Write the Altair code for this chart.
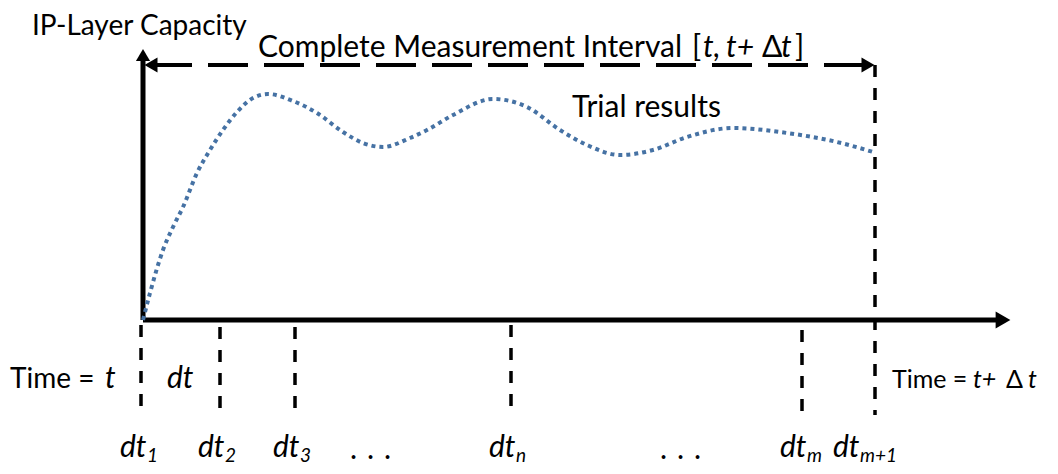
import altair as alt
import pandas as pd

FONT = "Lato"

# ---- data (diagram units: x = time position, y = capacity position, y grows downward)
curve_t = [143, 150, 163, 173, 183, 197, 210, 223, 237, 253, 268, 293, 317, 343, 363, 383,
           410, 427, 453, 493, 527, 560, 587, 620, 653, 687, 733, 787, 837, 873]
curve_c = [320, 293, 250, 227, 207, 173, 150, 130, 112, 98, 94, 101, 113, 132, 143, 147,
           138, 130, 115, 99, 107, 130, 145, 155, 150, 137, 128, 133, 142, 152]

tick_x = [141, 220, 295, 511, 802, 875]
tick_top = [325, 327, 327, 325, 330, 65]
tick_bottom = [410, 412, 412, 410, 415, 415]

sub_main = ["dt", "dt", "dt", "dt", "dt", "dt"]
sub_main_x = [120, 198, 273, 489, 780, 833]
sub_text = ["1", "2", "3", "n", "m", "m+1"]
sub_offset = 27

ellipsis_x = [350, 660]
dot_gap = 17

# text segments: text, x(left), baseline y, size, italic
seg_text = ["IP-Layer Capacity",
            "Complete Measurement Interval", "[", "t,", "t+", "Δ", "t", "]",
            "Trial results",
            "Time =", "t", "dt",
            "Time =", "t+", "Δ", "t"]
seg_x = [32, 258, 692, 703, 726, 762, 781, 795, 572, 10, 105, 167, 892, 973, 1006, 1028]
seg_y = [35, 57, 57, 57, 57, 57, 57, 57, 117, 388, 388, 388, 388, 388, 388, 388]
seg_size = [28, 30, 30, 30, 30, 30, 30, 30, 30, 28, 30, 30, 25, 25, 25, 25]
seg_italic = [False, False, False, True, True, False, True, False, False, False, True, True,
              False, True, False, True]

W, H = 1042, 458
xs = alt.Scale(domain=[8, 8 + W])
ys = alt.Scale(domain=[8, 8 + H], reverse=True)
X = lambda f, **k: alt.X(f, scale=xs, axis=None, **k)
Y = lambda f, **k: alt.Y(f, scale=ys, axis=None, **k)

curve = pd.DataFrame({"t": curve_t, "c": curve_c})
ticks = pd.DataFrame({"x": tick_x, "y": tick_top, "y2": tick_bottom})
segs = pd.DataFrame({"text": seg_text, "x": seg_x, "y": seg_y, "size": seg_size,
                     "italic": seg_italic})
mains = pd.DataFrame({"text": sub_main, "x": sub_main_x, "y": [457] * 6})
subs = pd.DataFrame({"text": sub_text, "x": [v + sub_offset for v in sub_main_x], "y": [462] * 6})
ell = pd.DataFrame({"text": ["."] * 6,
                    "x": [e + k * dot_gap for e in ellipsis_x for k in range(3)],
                    "y": [459] * 6})

axes_df = pd.DataFrame({"x": [143, 143], "x2": [143, 996], "y": [320, 320], "y2": [60, 320]})
top_df = pd.DataFrame({"x": [152], "x2": [864], "y": [65]})
heads = pd.DataFrame({"x": [143, 1003, 868, 151], "y": [55, 320, 65, 65],
                      "shape": ["triangle-up", "triangle-right", "triangle-right", "triangle-left"],
                      "size": [200, 289, 225, 225]})

axis_lines = alt.Chart(axes_df).mark_rule(color="black", strokeWidth=5).encode(
    x=X("x:Q"), x2="x2:Q", y=Y("y:Q"), y2="y2:Q")
top_line = alt.Chart(top_df).mark_rule(color="black", strokeWidth=4, strokeDash=[40, 16]).encode(
    x=X("x:Q"), x2="x2:Q", y=Y("y:Q"))
arrow_heads = alt.Chart(heads).mark_point(filled=True, color="black", opacity=1).encode(
    x=X("x:Q"), y=Y("y:Q"),
    shape=alt.Shape("shape:N", scale=None),
    size=alt.Size("size:Q", scale=None))
tick_lines = alt.Chart(ticks).mark_rule(color="black", strokeWidth=3.5, strokeDash=[12, 11]).encode(
    x=X("x:Q"), y=Y("y:Q"), y2="y2:Q")
curve_line = alt.Chart(curve).mark_line(color="#4672A4", strokeWidth=4, strokeDash=[4, 4],
                                        interpolate="monotone").encode(
    x=X("t:Q"), y=Y("c:Q"))


def txt(df, italic, size=None):
    m = alt.Chart(df).mark_text(font=FONT, align="left", baseline="alphabetic", color="black",
                                fontStyle="italic" if italic else "normal",
                                **({"fontSize": size} if size else {}))
    enc = dict(x=X("x:Q"), y=Y("y:Q"), text="text:N")
    if size is None:
        enc["size"] = alt.Size("size:Q", scale=None)
    return m.encode(**enc)


t_norm = txt(segs[~segs.italic], False)
t_ital = txt(segs[segs.italic], True)
t_main = txt(mains, True, 30)
t_sub = txt(subs, True, 19)
t_ell = txt(ell, False, 30)

chart = alt.layer(axis_lines, top_line, tick_lines, curve_line, arrow_heads,
                  t_norm, t_ital, t_main, t_sub, t_ell).properties(
    width=W, height=H, padding=0, autosize=alt.AutoSizeParams(type="none")
).configure_view(stroke=None)

chart.save("out.html", embed_options={"renderer": "svg", "actions": False})
